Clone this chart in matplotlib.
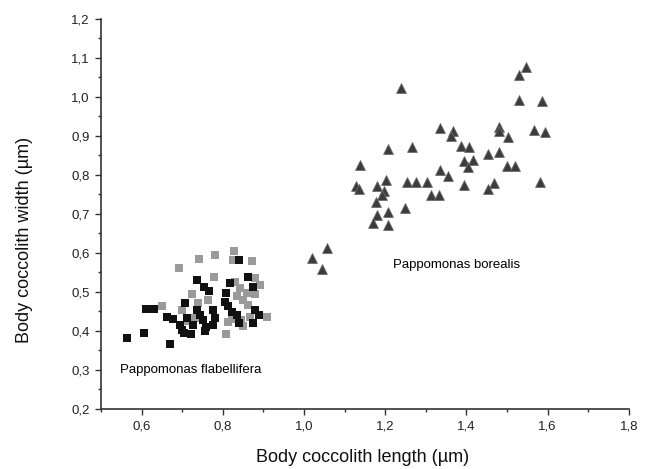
import matplotlib
matplotlib.use("Agg")
import matplotlib.pyplot as plt
from matplotlib.ticker import MultipleLocator, FuncFormatter

plt.rcParams["font.family"] = ["Liberation Sans", "DejaVu Sans"]

# ── Data ────────────────────────────────────────────────────────────────────
# P. flabellifera, black squares
black_len = [0.565, 0.607, 0.671, 0.612, 0.631, 0.662, 0.677, 0.695, 0.699, 0.704,
             0.721, 0.707, 0.713, 0.736, 0.755, 0.766, 0.737, 0.744, 0.752, 0.760,
             0.756, 0.777, 0.777, 0.781, 0.726, 0.809, 0.805, 0.813, 0.822, 0.834,
             0.840, 0.818, 0.863, 0.875, 0.879, 0.890, 0.875, 0.840]
black_wid = [0.383, 0.396, 0.367, 0.456, 0.456, 0.435, 0.430, 0.416, 0.403, 0.394,
             0.392, 0.471, 0.432, 0.530, 0.514, 0.502, 0.454, 0.441, 0.428, 0.411,
             0.401, 0.416, 0.455, 0.432, 0.416, 0.497, 0.475, 0.463, 0.449, 0.441,
             0.421, 0.523, 0.538, 0.514, 0.454, 0.441, 0.420, 0.582]

# P. flabellifera, grey squares
grey_len = [0.692, 0.742, 0.780, 0.828, 0.826, 0.871, 0.778, 0.725, 0.764, 0.651,
            0.700, 0.731, 0.740, 0.830, 0.842, 0.859, 0.879, 0.892, 0.879, 0.834,
            0.850, 0.863, 0.867, 0.846, 0.850, 0.908, 0.809, 0.813, 0.824, 0.715]
grey_wid = [0.562, 0.584, 0.596, 0.604, 0.582, 0.579, 0.538, 0.495, 0.479, 0.464,
            0.454, 0.432, 0.471, 0.526, 0.509, 0.497, 0.536, 0.518, 0.495, 0.489,
            0.479, 0.467, 0.437, 0.428, 0.413, 0.435, 0.392, 0.424, 0.431, 0.426]

# P. borealis, triangles
bor_len = [1.546, 1.530, 1.239, 1.530, 1.585, 1.334, 1.368, 1.361, 1.480, 1.479,
           1.567, 1.594, 1.503, 1.387, 1.407, 1.208, 1.267, 1.480, 1.452, 1.393,
           1.415, 1.405, 1.499, 1.520, 1.138, 1.335, 1.354, 1.581, 1.253, 1.275,
           1.302, 1.393, 1.469, 1.452, 1.127, 1.135, 1.181, 1.203, 1.198, 1.191,
           1.314, 1.333, 1.177, 1.249, 1.181, 1.208, 1.169, 1.206, 1.057, 1.019,
           1.044]
bor_wid = [1.078, 1.056, 1.022, 0.992, 0.990, 0.920, 0.914, 0.901, 0.924, 0.913,
           0.915, 0.909, 0.897, 0.874, 0.873, 0.867, 0.873, 0.858, 0.853, 0.835,
           0.839, 0.820, 0.823, 0.823, 0.825, 0.814, 0.797, 0.781, 0.781, 0.781,
           0.781, 0.774, 0.780, 0.763, 0.771, 0.763, 0.771, 0.786, 0.758, 0.749,
           0.749, 0.748, 0.730, 0.715, 0.697, 0.706, 0.676, 0.673, 0.614, 0.586,
           0.558]

# ── Figure ───────────────────────────────────────────────────────────────────
fig = plt.figure(figsize=(6.51, 4.69), dpi=100)
ax = fig.add_axes([0.155, 0.128, 0.811, 0.8315])

ax.scatter(grey_len, grey_wid, marker="s", s=32, color="#9a9a9a", linewidths=0, zorder=2)
ax.scatter(black_len, black_wid, marker="s", s=32, color="#111111", linewidths=0, zorder=3)
ax.scatter(bor_len, bor_wid, marker="^", s=50, color="#3c3c3c",
           edgecolors="#6a6a6a", linewidths=0.6, zorder=3)

ax.text(0.547, 0.30, "Pappomonas flabellifera", fontsize=9.5, va="center", ha="left")
ax.text(1.22, 0.569, "Pappomonas borealis", fontsize=9.5, va="center", ha="left")

ax.set_xlim(0.5, 1.8)
ax.set_ylim(0.2, 1.2)
ax.xaxis.set_minor_locator(MultipleLocator(0.1))
ax.yaxis.set_major_locator(MultipleLocator(0.1))
ax.yaxis.set_minor_locator(MultipleLocator(0.05))

comma = FuncFormatter(lambda v, p: f"{v:.1f}".replace(".", ","))
ax.xaxis.set_major_formatter(comma)
ax.yaxis.set_major_formatter(comma)

# 0.5 tick label is not shown on x
ax.set_xticks([0.6, 0.8, 1.0, 1.2, 1.4, 1.6, 1.8])

for side in ("top", "right"):
    ax.spines[side].set_visible(False)
for side in ("left", "bottom"):
    ax.spines[side].set_color("#333333")
    ax.spines[side].set_linewidth(1.2)

ax.tick_params(which="major", direction="out", length=4, width=1, colors="#333333",
               labelsize=9.5, labelcolor="#222222", pad=4)
ax.tick_params(which="minor", direction="out", length=2.5, width=1, colors="#333333")

ax.set_xlabel("Body coccolith length (µm)", fontsize=13, color="#111111")
ax.set_ylabel("Body coccolith width (µm)", fontsize=13, color="#111111")
ax.xaxis.set_label_coords(0.496, -0.103)
ax.yaxis.set_label_coords(-0.129, 0.433)

fig.savefig("out.png", dpi=100)
